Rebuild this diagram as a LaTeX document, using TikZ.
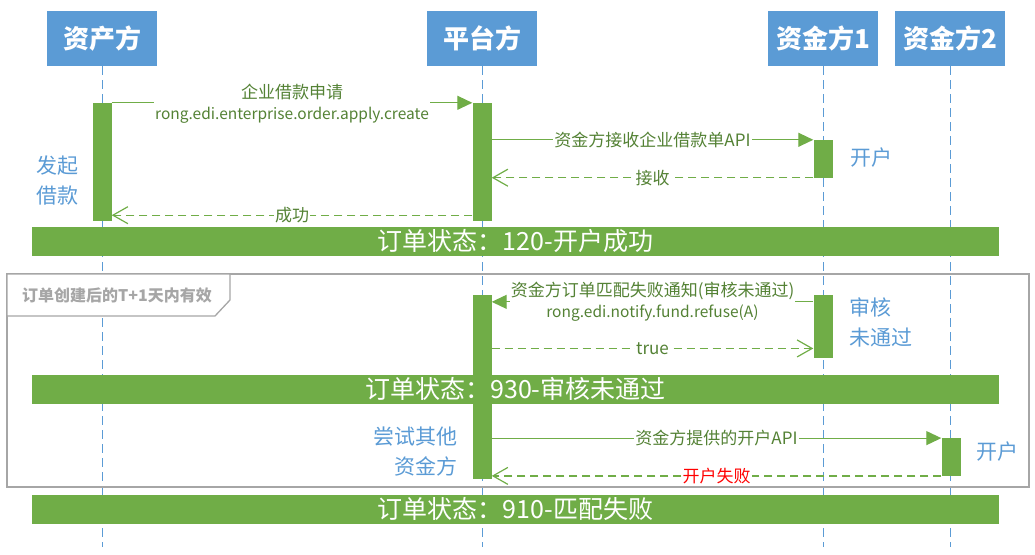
\documentclass[tikz,border=0pt]{standalone}
\usepackage{fontspec}
\setmainfont{Noto Sans CJK SC}
\usepackage{tikz}
\usetikzlibrary{
    positioning,   % Relative positioning
    arrows.meta,   % Modern arrow tips
    calc           % Coordinate calculations
}
\definecolor{PartyBlue}{RGB}{91, 155, 213}
\definecolor{BarGreen}{RGB}{112, 173, 71}
\definecolor{LabelGreen}{RGB}{84, 130, 53}
\definecolor{FrameGray}{RGB}{166, 166, 166}

\tikzset{
    party/.style={fill=PartyBlue, text=white, minimum width=110pt, minimum height=55pt,
        inner sep=0pt, font=\fontsize{26}{26}\selectfont\bfseries},
    lifeline/.style={PartyBlue, line width=1pt, dash pattern=on 9pt off 5pt},
    activation/.style={fill=BarGreen, minimum width=19pt, inner sep=0pt},
    call/.style={BarGreen, line width=1.2pt, -{Triangle[length=15pt, width=14pt]}},
    reply/.style={BarGreen, line width=1.2pt, dash pattern=on 8pt off 5pt,
        -{Straight Barb[length=15pt, width=17pt]}},
    msglabel/.style={fill=white, text=LabelGreen, inner sep=1pt, font=\fontsize{17}{17}\selectfont},
    apilabel/.style={fill=white, text=LabelGreen, inner sep=1pt, font=\fontsize{15.5}{15.5}\selectfont},
    note/.style={text=PartyBlue, font=\fontsize{21}{30}\selectfont},
    statusbar/.style={fill=BarGreen, text=white, minimum width=967pt, minimum height=29pt,
        inner sep=0pt, font=\fontsize{25}{25}\selectfont}
}

\begin{document}
\begin{tikzpicture}[x=1pt, y=-1pt]
    \useasboundingbox (0,0) rectangle (1035,554);

    % Parties
    \node[party] (zc)  at (102, 38.5) {资产方};
    \node[party] (pt)  at (482, 38.5) {平台方};
    \node[party] (zj1) at (823, 38.5) {资金方1};
    \node[party] (zj2) at (950, 38.5) {资金方2};
    \coordinate (bottom) at (0, 547);
    \foreach \p in {zc, pt, zj1, zj2}
        \draw[lifeline] (\p.south) -- (\p |- bottom);

    % Validity frame
    \draw[FrameGray, line width=1.3pt] (7,274) rectangle (1029,487);
    \draw[FrameGray, line width=1.3pt, fill=white]
        (7,274) -- (230,274) -- (230,300) -- (215,316) -- (7,316) -- cycle;
    \node[text=FrameGray, font=\fontsize{16}{16}\selectfont\bfseries] (valid) at (117,295)
        {订单创建后的T+1天内有效};

    % Activation bars
    \node[activation, minimum height=118pt] (zcA)  at (102, 162) {};
    \node[activation, minimum height=118pt] (ptA)  at (482, 162) {};
    \node[activation, minimum height=37.5pt] (zj1A) at (823, 158.75) {};
    \node[activation, minimum height=184pt] (ptB)  at (482, 387) {};
    \node[activation, minimum height=62.7pt] (zj1B) at (823, 326.4) {};
    \node[activation, minimum height=37.4pt] (zj2A) at (951, 457) {};

    % Apply for loan
    \draw[call] (zcA.north east) -- (ptA.north west)
        node[pos=0.5, yshift=11pt, msglabel] {企业借款申请}
        node[pos=0.5, yshift=-12pt, apilabel, minimum height=25pt] {rong.edi.enterprise.order.apply.create};
    \draw[call] (ptA.east |- zj1A.north west) -- (zj1A.north west)
        node[midway, msglabel] {资金方接收企业借款单API};
    \draw[reply] (zj1A.south west) -- (ptA.east |- zj1A.south west)
        node[midway, msglabel] {接收};
    \coordinate (okStart) at ([yshift=6pt]ptA.south west);
    \draw[reply] (okStart) -- (zcA.east |- okStart)
        node[midway, msglabel] {成功};

    % Refused by fund side
    \coordinate (refuseStart) at ([yshift=-7pt]zj1B.north west);
    \draw[call] (refuseStart) -- (ptB.east |- refuseStart)
        node[pos=0.5, yshift=11pt, msglabel, minimum height=24pt] {资金方订单匹配失败通知(审核未通过)}
        node[pos=0.5, yshift=-11.5pt, apilabel] {rong.edi.notify.fund.refuse(A)};
    \coordinate (trueEnd) at ([yshift=9.5pt]zj1B.south west);
    \draw[reply] (ptB.east |- trueEnd) -- (trueEnd)
        node[midway, msglabel] {true};

    % Try another fund side
    \draw[call] (ptB.east |- zj2A.north west) -- (zj2A.north west)
        node[midway, msglabel] {资金方提供的开户API};
    \draw[reply] (zj2A.south west) -- (ptB.east |- zj2A.south west)
        node[midway, msglabel, text=red] {开户失败};

    % Notes
    \node[note, align=center] (start) at (57, 180.5) {发起\\借款};
    \node[note] (open1) at (871, 158) {开户};
    \node[note, align=left, anchor=west] (reject) at (846, 322) {审核\\未通过};
    \node[note, align=right, anchor=east] (retry) at (461, 451.5) {尝试其他\\资金方};
    \node[note] (open2) at (997, 452) {开户};

    % Order states
    \node[statusbar] (s120) at (515.5, 241) {订单状态：120-开户成功};
    \node[statusbar] (s930) at (515.5, 389) {订单状态：930-审核未通过};
    \node[statusbar] (s910) at (515.5, 509) {订单状态：910-匹配失败};
\end{tikzpicture}
\end{document}
